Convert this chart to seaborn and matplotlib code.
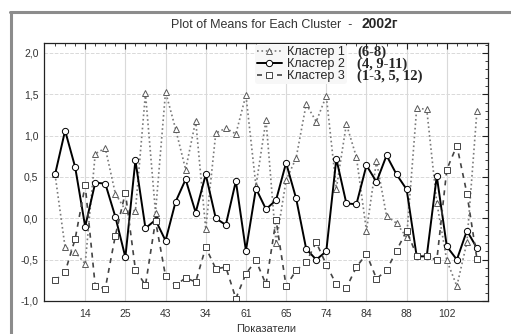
import numpy as np
import pandas as pd
import matplotlib
matplotlib.use('Agg')
import matplotlib.pyplot as plt
from matplotlib.ticker import FixedLocator, MultipleLocator, FuncFormatter
from matplotlib.lines import Line2D
import seaborn as sns

# Means per indicator for each cluster
cluster1 = [0.53, -0.35, -0.41, -0.55, 0.78, 0.85, 0.30, 0.10, 0.09,
            1.51, 0.07, 1.53, 1.08, 0.59, 1.18, -0.13, 1.03, 1.09,
            1.02, 1.49, 0.39, 1.19, -0.30, 0.46, 0.73, 1.38, 1.17,
            1.48, 0.36, 1.14, 0.74, -0.15, 0.69, 0.03, -0.06, -0.23,
            1.33, 1.32, 0.19, -0.51, -0.82, -0.29, 1.30]
cluster2 = [0.53, 1.06, 0.62, -0.10, 0.43, 0.42, 0.02, -0.47, 0.70,
            -0.12, -0.02, -0.27, 0.20, 0.47, 0.07, 0.53, 0.00, -0.08,
            0.45, -0.39, 0.36, 0.11, 0.22, 0.67, 0.24, -0.37, -0.50,
            -0.40, 0.72, 0.18, 0.17, 0.64, 0.44, 0.76, 0.53, 0.35,
            -0.46, -0.46, 0.51, -0.34, -0.50, -0.15, -0.36]
cluster3 = [-0.75, -0.65, -0.25, 0.40, -0.82, -0.85, -0.21, 0.31, -0.62,
            -0.81, -0.03, -0.70, -0.81, -0.72, -0.77, -0.35, -0.61, -0.59,
            -0.97, -0.67, -0.51, -0.80, -0.02, -0.82, -0.63, -0.53, -0.29,
            -0.56, -0.80, -0.84, -0.59, -0.43, -0.73, -0.63, -0.39, -0.15,
            -0.45, -0.45, -0.51, 0.59, 0.88, 0.30, -0.49]
series_names = ['Кластер 1', 'Кластер 2', 'Кластер 3']
series_notes = ['(6-8)', '(4, 9-11)', '(1-3, 5, 12)']
tick_pos = [3, 7, 11, 15, 19, 23, 27, 31, 35, 39]
tick_labels = ['14', '25', '43', '34', '61', '65', '74', '84', '88', '102']

sns.set_style('white')
plt.rcParams['font.family'] = ['Liberation Sans', 'DejaVu Sans']

W, H = 511, 334
fig = plt.figure(figsize=(W / 100, H / 100), dpi=100)
fig.patch.set_facecolor('white')
ax = fig.add_axes([44 / W, 1 - 301 / H, (488 - 44) / W, (301 - 43) / H])

x = np.arange(len(cluster1))
df = pd.DataFrame({'x': x, 'c1': cluster1, 'c2': cluster2, 'c3': cluster3})

# Cluster 1 - dotted with triangles
sns.lineplot(data=df, x='x', y='c1', ax=ax, color='#7a7a7a', linestyle=':', lw=1.2,
             marker='^', markersize=4.5, markerfacecolor='white',
             markeredgecolor='#5a5a5a', markeredgewidth=0.7)
# Cluster 2 - solid with circles
sns.lineplot(data=df, x='x', y='c2', ax=ax, color='black', linestyle='-', lw=1.4,
             marker='o', markersize=4.5, markerfacecolor='white',
             markeredgecolor='black', markeredgewidth=0.7)
# Cluster 3 - dashed with squares
sns.lineplot(data=df, x='x', y='c3', ax=ax, color='#444444', lw=1.2,
             dashes=(3, 3), marker='s', markersize=4.5, markerfacecolor='white',
             markeredgecolor='#444444', markeredgewidth=0.7)

ax.set_xlim(-1.1, 43.1)
ax.set_ylim(-1.0, 2.12)
ax.xaxis.set_major_locator(FixedLocator(tick_pos))
ax.xaxis.set_minor_locator(FixedLocator(list(x)))
ax.set_xticklabels(tick_labels)
ax.yaxis.set_major_locator(MultipleLocator(0.5))
ax.yaxis.set_minor_locator(MultipleLocator(0.1))
ax.yaxis.set_major_formatter(FuncFormatter(lambda v, p: f'{v:.1f}'.replace('.', ',')))
ax.tick_params(which='both', direction='in', top=True, right=True,
               colors='#222222', labelcolor='#333333', labelsize=7.5)
ax.tick_params(which='major', length=4, width=0.8)
ax.tick_params(which='minor', length=2.5, width=0.6)
ax.tick_params(axis='x', pad=6)
ax.tick_params(axis='y', pad=4)
for s in ax.spines.values():
    s.set_color('#222222')
    s.set_linewidth(0.9)

ax.grid(axis='x', which='major', color='#d9d9d9', lw=0.8)
ax.grid(axis='y', which='major', color='#d9d9d9', lw=0.7, ls='--')
ax.set_axisbelow(True)

ax.set_xlabel('Показатели', fontsize=8, color='#333333', labelpad=3)
ax.set_ylabel('')

# legend
handles = ax.get_lines()[:3]
leg = ax.legend(handles, series_names, loc='upper left',
                bbox_to_anchor=(255 / W, 1 - 44 / H), bbox_transform=fig.transFigure,
                frameon=True, facecolor='#f7f7f7', edgecolor='none', framealpha=1,
                fontsize=9, handlelength=2.0, labelspacing=0.0, borderpad=0.15,
                handletextpad=0.4, borderaxespad=0)
for i, note in enumerate(series_notes):
    fig.text(357 / W, 1 - (52 + 12 * i) / H, note, family='Liberation Serif',
             fontweight='bold', fontsize=10.5, va='center', ha='left', zorder=10)

# title
fig.text(352 / W, 1 - 25 / H, 'Plot of Means for Each Cluster  -', fontsize=9,
         color='#333333', ha='right', va='center')
fig.text(361 / W, 1 - 24.5 / H, '2002г', fontsize=10, fontweight='bold',
         ha='left', va='center')

# window frame
fig.add_artist(Line2D([10.5 / W, 10.5 / W], [0, 1 - 12 / H], transform=fig.transFigure,
                      color='#8c8c8c', lw=2.2))
fig.add_artist(Line2D([9.5 / W, 1], [1 - 12 / H, 1 - 12 / H], transform=fig.transFigure,
                      color='#8c8c8c', lw=2.2))

fig.savefig('out.png', dpi=100)
